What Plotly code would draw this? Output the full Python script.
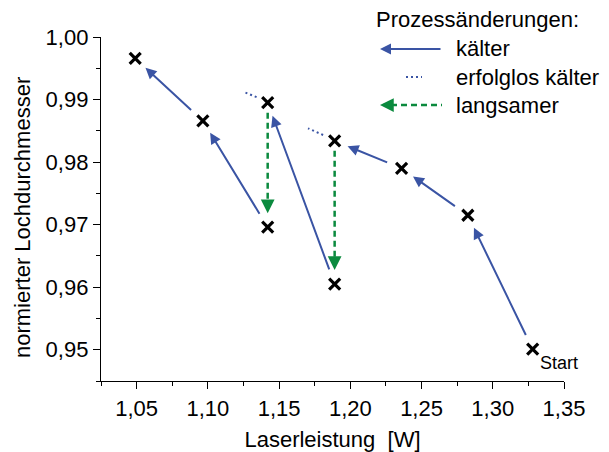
import plotly.graph_objects as go

# Measurement sequence, in the order the process was changed (first entry = start point)
laser_power = [1.328, 1.2825, 1.236, 1.189, 1.189, 1.142, 1.142, 1.0965, 1.049]
hole_diameter = [0.9501, 0.9715, 0.9790, 0.9834, 0.9605, 0.9895, 0.9696, 0.9866, 0.9966]
change_type = ["Start", "kälter", "kälter", "kälter", "langsamer",
               "kälter", "langsamer", "kälter", "kälter"]

# Unsuccessful "colder" attempts (start -> end of dotted segment)
failed_power = [[1.1809, 1.1703], [1.1342, 1.1248]]
failed_diameter = [[0.98433, 0.98540], [0.99038, 0.99127]]

x_ticks = [1.05, 1.10, 1.15, 1.20, 1.25, 1.30, 1.35]
y_ticks = [0.95, 0.96, 0.97, 0.98, 0.99, 1.00]
x_range = [1.025, 1.35]
y_range = [0.945, 1.0]

x_title = "Laserleistung  [W]"
y_title = "normierter Lochdurchmesser"
legend_title = "Prozessänderungen:"
legend_labels = ["kälter", "erfolglos kälter", "langsamer"]

BLUE = "#3a54a4"
GREEN = "#0b8a3e"
FONT = "Liberation Sans, Arial, sans-serif"

W, H = 609, 452
M = dict(l=101, r=45, t=37, b=71)
PW = W - M["l"] - M["r"]
PH = H - M["t"] - M["b"]


def to_px(x, y):
    px = M["l"] + (x - x_range[0]) / (x_range[1] - x_range[0]) * PW
    py = M["t"] + (y_range[1] - y) / (y_range[1] - y_range[0]) * PH
    return px, py


def to_data(px, py):
    x = x_range[0] + (px - M["l"]) / PW * (x_range[1] - x_range[0])
    y = y_range[1] - (py - M["t"]) / PH * (y_range[1] - y_range[0])
    return x, y


def paper(px, py):
    return (px - M["l"]) / PW, (H - M["b"] - py) / PH


fig = go.Figure()

# dotted segments for the unsuccessful attempts
for fx, fy in zip(failed_power, failed_diameter):
    fig.add_trace(go.Scatter(x=fx, y=fy, mode="lines", hoverinfo="skip",
                             line=dict(color=BLUE, width=2, dash="2px,3px")))

annotations = []
GAP = 14
HEAD = 11
for i in range(1, len(laser_power)):
    x0, y0 = laser_power[i - 1], hole_diameter[i - 1]
    x1, y1 = laser_power[i], hole_diameter[i]
    if change_type[i] == "kälter":
        annotations.append(dict(
            x=x1, y=y1, ax=x0, ay=y0, xref="x", yref="y", axref="x", ayref="y",
            text="", showarrow=True, arrowhead=2, arrowsize=1.1, arrowwidth=2,
            arrowcolor=BLUE, standoff=GAP, startstandoff=GAP))
    else:
        p0 = to_px(x0, y0)
        p1 = to_px(x1, y1)
        dx, dy = p1[0] - p0[0], p1[1] - p0[1]
        L = (dx * dx + dy * dy) ** 0.5
        ux, uy = dx / L, dy / L
        s = to_data(p0[0] + ux * 10, p0[1] + uy * 10)
        e = to_data(p1[0] - ux * (GAP + HEAD), p1[1] - uy * (GAP + HEAD))
        fig.add_trace(go.Scatter(x=[s[0], e[0]], y=[s[1], e[1]], mode="lines",
                                 hoverinfo="skip",
                                 line=dict(color=GREEN, width=2.5, dash="6px,4px")))
        annotations.append(dict(
            x=x1, y=y1, ax=-ux * (GAP + HEAD), ay=-uy * (GAP + HEAD),
            xref="x", yref="y", text="", showarrow=True, arrowhead=2,
            arrowsize=1.1, arrowwidth=2.5, arrowcolor=GREEN, standoff=GAP))

# measurement points
fig.add_trace(go.Scatter(x=laser_power, y=hole_diameter, mode="markers",
                         hoverinfo="skip",
                         marker=dict(symbol="x-thin-open", size=11, color="black",
                                     line=dict(color="black", width=3.2))))

annotations.append(dict(x=laser_power[0], y=hole_diameter[0], xref="x", yref="y",
                        text=change_type[0], showarrow=False, xanchor="left",
                        yanchor="middle", xshift=5, yshift=-14,
                        font=dict(size=18, color="black", family=FONT)))

# y axis title placed explicitly
yx, yy = paper(22, 218)
annotations.append(dict(x=yx, y=yy, xref="paper", yref="paper", text=y_title,
                        textangle=-90, showarrow=False, xanchor="center",
                        yanchor="middle", font=dict(size=22, color="black", family=FONT)))

# legend drawn by hand (arrows need heads)
tx, ty = paper(374, 20)
annotations.append(dict(x=tx, y=ty, xref="paper", yref="paper", text=legend_title,
                        showarrow=False, xanchor="left", yanchor="middle",
                        font=dict(size=22, color="black", family=FONT)))
rows_y = [49, 77, 105]
for lab, ry in zip(legend_labels, rows_y):
    lx, ly = paper(454, ry)
    annotations.append(dict(x=lx, y=ly, xref="paper", yref="paper", text=lab,
                            showarrow=False, xanchor="left", yanchor="middle",
                            font=dict(size=22, color="black", family=FONT)))

shapes = []
# kälter sample
hx, hy = paper(380, rows_y[0])
annotations.append(dict(x=hx, y=hy, ax=62, ay=0, xref="paper", yref="paper",
                        text="", showarrow=True, arrowhead=2, arrowsize=1.1,
                        arrowwidth=2, arrowcolor=BLUE))
# erfolglos sample
a = paper(406, rows_y[1]); b = paper(422, rows_y[1])
shapes.append(dict(type="line", xref="paper", yref="paper", x0=a[0], y0=a[1],
                   x1=b[0], y1=b[1], line=dict(color=BLUE, width=2, dash="2px,3px")))
# langsamer sample
a = paper(380 + HEAD, rows_y[2]); b = paper(442, rows_y[2])
shapes.append(dict(type="line", xref="paper", yref="paper", x0=a[0], y0=a[1],
                   x1=b[0], y1=b[1], line=dict(color=GREEN, width=2.5, dash="6px,4px")))
hx, hy = paper(380, rows_y[2])
annotations.append(dict(x=hx, y=hy, ax=HEAD, ay=0, xref="paper", yref="paper",
                        text="", showarrow=True, arrowhead=2, arrowsize=1.1,
                        arrowwidth=2.5, arrowcolor=GREEN))

axis_common = dict(showline=True, linecolor="black", linewidth=1.3, ticks="outside",
                   ticklen=7, tickwidth=1.3, tickcolor="black", showgrid=False,
                   zeroline=False, automargin=False,
                   tickfont=dict(size=22, color="black", family=FONT),
                   tickformat=".2f",
                   minor=dict(ticks="outside", ticklen=4, tickwidth=1.3,
                              tickcolor="black", showgrid=False))

fig.update_layout(
    width=W, height=H, margin=M, plot_bgcolor="white", paper_bgcolor="white",
    showlegend=False, separators=",.",
    font=dict(family=FONT, color="black"),
    xaxis=dict(range=x_range, tickvals=x_ticks,
               title=dict(text=x_title, font=dict(size=22, family=FONT), standoff=12),
               **axis_common),
    yaxis=dict(range=y_range, tickvals=y_ticks, **axis_common),
    annotations=annotations, shapes=shapes,
)
fig.update_xaxes(minor=dict(dtick=0.025, tick0=1.025))
fig.update_yaxes(minor=dict(dtick=0.005, tick0=0.945))

fig.write_html("out.html")
